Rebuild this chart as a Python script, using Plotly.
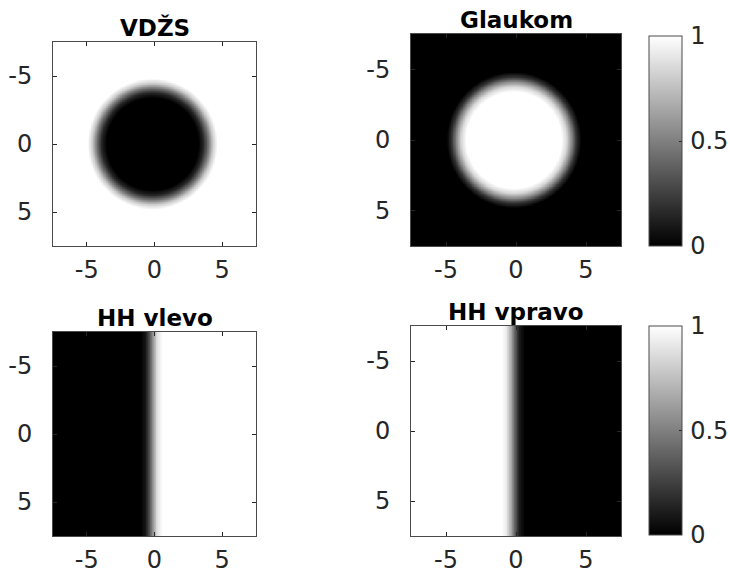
import numpy as np
import plotly.graph_objects as go

# --- data ---
titles = ["VDŽS", "Glaukom", "HH vlevo", "HH vpravo"]
axis_ticks = [-5, 0, 5]
axis_ticktext = ["-5", "0", "5"]
cbar_ticks = [0, 0.5, 1]
cbar_ticktext = ["0", "0.5", "1"]

# radial intensity profile of the VDŽS disk (radius in axis units -> gray level)
disk_r = [0.0, 3.4, 3.75, 4.1, 4.45, 4.8, 12.0]
disk_v = [0.0, 0.0, 0.15, 0.45, 0.8, 1.0, 1.0]
disk_center = [-0.15, 0.0]

# horizontal edge profile of HH vlevo (x in axis units -> gray level)
edge_x = [-1.0, -0.7, -0.4, -0.1, 0.2, 0.6]
edge_v = [0.0, 0.08, 0.3, 0.6, 0.88, 1.0]

grid = np.linspace(-7.5, 7.5, 301)
X, Y = np.meshgrid(grid, grid)
R = np.hypot(X - disk_center[0], Y - disk_center[1])
z_vdzs = np.interp(R, disk_r, disk_v)
z_glaukom = 1.0 - z_vdzs
z_vlevo = np.interp(X, edge_x, edge_v)
z_vpravo = 1.0 - z_vlevo
zs = [z_vdzs, z_glaukom, z_vlevo, z_vpravo]

W, H = 730, 574
def px(x0, x1):
    return [x0 / W, x1 / W]
def py(top, bottom):
    return [1 - bottom / H, 1 - top / H]

xdom = [px(53, 256), px(411, 621), px(53, 256), px(411, 621)]
ydom = [py(42, 246), py(34, 246), py(332, 536), py(326, 536)]

gray = [[0, "black"], [1, "white"]]
axc = "#262626"
font = "DejaVu Sans"
FS = 24

fig = go.Figure()
layout = dict(width=W, height=H,
              margin=dict(l=0, r=0, t=0, b=0, pad=0, autoexpand=False),
              paper_bgcolor="white", plot_bgcolor="white",
              font=dict(family=font, size=FS, color=axc), showlegend=False)

cbars = {1: (36, 246), 3: (326, 535)}
for i in range(4):
    n = "" if i == 0 else str(i + 1)
    tr = dict(x=grid, y=grid, z=zs[i], colorscale=gray, zmin=0, zmax=1,
              xaxis="x" + n, yaxis="y" + n, showscale=i in cbars)
    if i in cbars:
        top, bot = cbars[i]
        tr["colorbar"] = dict(x=649 / W, xanchor="left", xpad=0, ypad=0,
                              y=1 - bot / H, yanchor="bottom",
                              len=(bot - top) / H, lenmode="fraction",
                              thickness=33, outlinewidth=1, outlinecolor="#4a4a4a",
                              tickvals=cbar_ticks,
                              ticktext=["\u200a" + t for t in cbar_ticktext],
                              ticks="inside", ticklen=3, tickcolor=axc,
                              tickfont=dict(family=font, size=FS, color=axc))
    fig.add_trace(go.Heatmap(**tr))
    common = dict(showline=True, linecolor="#4a4a4a", linewidth=1, mirror="ticks",
                  ticks="inside", ticklen=4, tickcolor=axc,
                  tickvals=axis_ticks, ticktext=axis_ticktext,
                  showgrid=False, zeroline=False, automargin=False,
                  tickfont=dict(family=font, size=FS, color=axc))
    layout["xaxis" + n] = dict(domain=xdom[i], range=[-7.5, 7.5],
                               anchor="y" + n, ticklabelstandoff=2, **common)
    layout["yaxis" + n] = dict(domain=ydom[i], range=[7.5, -7.5],
                               anchor="x" + n, ticklabelstandoff=15, **common)

annotations = []
for i in range(4):
    annotations.append(dict(text="<b>%s</b>" % titles[i], xref="paper", yref="paper",
                            x=(xdom[i][0] + xdom[i][1]) / 2, y=ydom[i][1] - 1 / H,
                            xanchor="center", yanchor="bottom", showarrow=False,
                            font=dict(family=font, size=23, color="black")))
layout["annotations"] = annotations

# faint diagonal streak visible inside each colorbar
shapes = []
for top, bot in cbars.values():
    shapes.append(dict(type="line", xref="paper", yref="paper",
                       x0=651 / W, y0=1 - (bot - 10) / H, x1=679 / W, y1=1 - (top + 20) / H,
                       line=dict(color="rgba(255,255,255,0.35)", width=1)))
layout["shapes"] = shapes

fig.update_layout(**layout)
fig.write_html("out.html")
